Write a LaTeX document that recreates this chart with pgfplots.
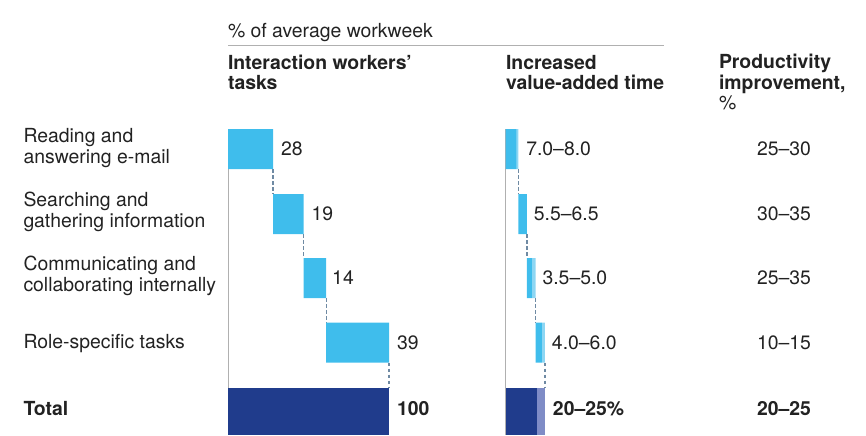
\documentclass[border=0pt]{standalone}
\usepackage{fontspec}
\setmainfont{TeX Gyre Heros}
\usepackage{pgfplots}
\pgfplotsset{compat=1.18}
\definecolor{cyanbar}{HTML}{3FBDEC}
\definecolor{cyanlight}{HTML}{8DD6F3}
\definecolor{navybar}{HTML}{203C8C}
\definecolor{navylight}{HTML}{7F8CC6}
\definecolor{conn}{HTML}{6F8AA3}
\definecolor{txt}{HTML}{222222}
\definecolor{rule}{HTML}{B0B0B0}
\begin{document}
\fontsize{19.4bp}{20.5bp}\selectfont
\begin{tikzpicture}[x=1bp,y=-1bp,
  every node/.style={text=txt,inner sep=0pt,outer sep=0pt},
  connector/.style={conn,line width=1.4bp,dash pattern=on 3.5bp off 2.5bp}]
\path (0,0) rectangle (866,435);
% ---------- left waterfall ----------
\begin{axis}[at={(228bp,0bp)},anchor=north west,scale only axis,
  x=1.61bp,y=1bp,xmin=0,xmax=100,ymin=0,ymax=435,y dir=reverse,
  hide axis,clip=false,xbar stacked,bar width=40bp]
\addplot[draw=none,fill=none] coordinates {(0,149) (28,214) (47,278) (61,342.5)};
\addplot[draw=none,fill=cyanbar] coordinates {(28,149) (19,214) (14,278) (39,342.5)};
\draw[rule,line width=1bp] (axis cs:0,129) -- (axis cs:0,435);
\draw[connector] (axis cs:28,169) -- (axis cs:28,194);
\draw[connector] (axis cs:47,234) -- (axis cs:47,258);
\draw[connector] (axis cs:61,298) -- (axis cs:61,322.5);
\draw[connector] (axis cs:100,362.5) -- (axis cs:100,388);
\node[anchor=west,xshift=8bp] at (axis cs:28,149) {28};
\node[anchor=west,xshift=8bp] at (axis cs:47,214) {19};
\node[anchor=west,xshift=6bp] at (axis cs:61,278) {14};
\node[anchor=west,xshift=8bp] at (axis cs:100,342.5) {39};
\node[anchor=west,xshift=8bp,font=\bfseries] at (axis cs:100,408.5) {100};
\end{axis}
\begin{axis}[at={(228bp,0bp)},anchor=north west,scale only axis,
  x=1.61bp,y=1bp,xmin=0,xmax=100,ymin=0,ymax=435,y dir=reverse,
  hide axis,clip=false,xbar,bar width=47bp]
\addplot[draw=none,fill=navybar] coordinates {(100,411.5)};
\end{axis}
% ---------- right waterfall ----------
\begin{axis}[at={(505.7bp,0bp)},anchor=north west,scale only axis,
  x=1.57bp,y=1bp,xmin=0,xmax=30,ymin=0,ymax=435,y dir=reverse,
  hide axis,clip=false,xbar stacked,bar width=40bp]
\addplot[draw=none,fill=none] coordinates {(0,149) (8,214) (13.5,278) (19,342.5)};
\addplot[draw=none,fill=cyanbar] coordinates {(7,149) (5.5,214) (3.5,278) (4,342.5)};
\addplot[draw=none,fill=cyanlight] coordinates {(1,149) (0,214) (2,278) (2,342.5)};
\draw[rule,line width=1bp] (axis cs:0,129) -- (axis cs:0,435);
\draw[connector] (axis cs:8,169) -- (axis cs:8,194);
\draw[connector] (axis cs:13.5,234) -- (axis cs:13.5,258);
\draw[connector] (axis cs:19,298) -- (axis cs:19,322.5);
\draw[connector] (axis cs:25,362.5) -- (axis cs:25,388);
\node[anchor=west,xshift=8bp] at (axis cs:8,149) {7.0--8.0};
\node[anchor=west,xshift=7bp] at (axis cs:13.5,214) {5.5--6.5};
\node[anchor=west,xshift=7bp] at (axis cs:19,278) {3.5--5.0};
\node[anchor=west,xshift=7bp] at (axis cs:25,342.5) {4.0--6.0};
\node[anchor=west,xshift=8bp,font=\bfseries] at (axis cs:25,408.5) {20--25\%};
\end{axis}
\begin{axis}[at={(505.7bp,0bp)},anchor=north west,scale only axis,
  x=1.57bp,y=1bp,xmin=0,xmax=30,ymin=0,ymax=435,y dir=reverse,
  hide axis,clip=false,xbar stacked,bar width=47bp]
\addplot[draw=none,fill=navybar] coordinates {(20,411.5)};
\addplot[draw=none,fill=navylight] coordinates {(5,411.5)};
\end{axis}
% ---------- headers ----------
\node[anchor=base west] at (228,38) {\% of average workweek};
\draw[rule,line width=1bp] (228,46) -- (664,46);
\node[anchor=base west,align=left,font=\bfseries] at (228,90) {Interaction workers’\\tasks};
\node[anchor=base west,align=left,font=\bfseries] at (506,90) {Increased\\value-added time};
\node[anchor=base west,align=left,font=\bfseries] at (719,110) {Productivity\\improvement,\\\mdseries\%};
% ---------- row labels ----------
\node[anchor=west,align=left] at (23.5,148) {Reading and\\answering e-mail};
\node[anchor=west,align=left] at (23.5,212) {Searching and\\gathering information};
\node[anchor=west,align=left] at (23.5,276) {Communicating and\\collaborating internally};
\node[anchor=west,align=left] at (23.5,344) {Role-specific tasks};
\node[anchor=west,font=\bfseries] at (23.5,409) {Total};
% ---------- productivity ----------
\node[anchor=east] at (811,149) {25--30};
\node[anchor=east] at (811,214) {30--35};
\node[anchor=east] at (811,278) {25--35};
\node[anchor=east] at (811,342.5) {10--15};
\node[anchor=east,font=\bfseries] at (811,408.5) {20--25};
\end{tikzpicture}
\end{document}
